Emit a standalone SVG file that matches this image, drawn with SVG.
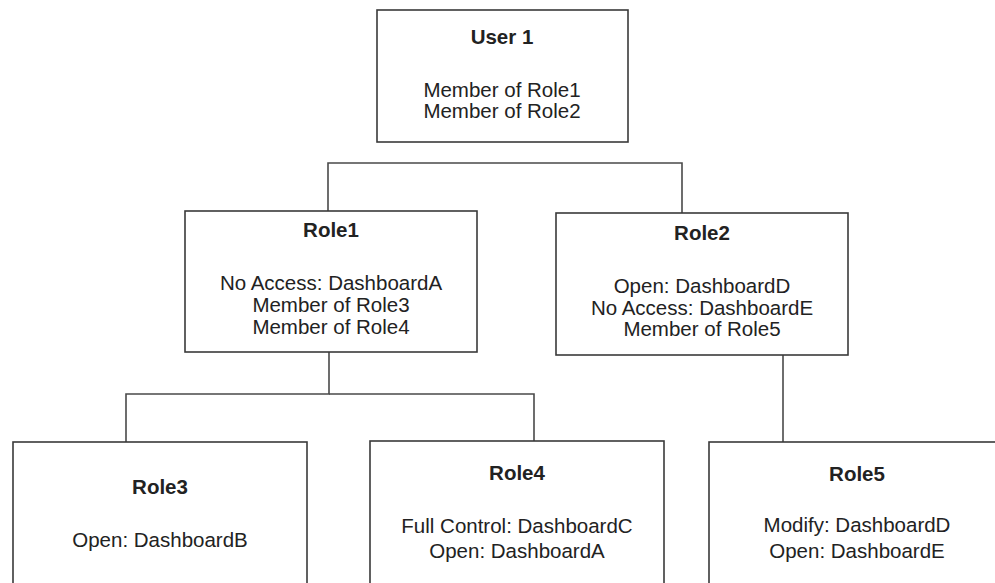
<svg xmlns="http://www.w3.org/2000/svg" width="995" height="583" viewBox="0 0 995 583">
<style>
.box{fill:#ffffff;stroke:#3a3a3a;stroke-width:1.6}
.t{font-family:"Liberation Sans",Arial,sans-serif;font-size:20.5px;fill:#222222;text-anchor:middle}
.b{font-weight:bold}
.c{fill:none;stroke:#4a4a4a;stroke-width:1.6}
</style>
<rect width="995" height="583" fill="#ffffff"/>
<g id="connectors">
<path class="c" d="M328 211 V163 H682 V213"/>
<path class="c" d="M329 352 V394 H126 V442"/>
<path class="c" d="M329 394 H534 V441"/>
<path class="c" d="M783 355 V442"/>
</g>
<g id="user1">
<rect class="box" x="377" y="10" width="251" height="132"/>
<text class="t b" x="502" y="44">User 1</text>
<text class="t" x="502" y="97">Member of Role1</text>
<text class="t" x="502" y="118">Member of Role2</text>
</g>
<g id="role1">
<rect class="box" x="185" y="211" width="292" height="141"/>
<text class="t b" x="331" y="237">Role1</text>
<text class="t" x="331" y="290">No Access: DashboardA</text>
<text class="t" x="331" y="312">Member of Role3</text>
<text class="t" x="331" y="334">Member of Role4</text>
</g>
<g id="role2">
<rect class="box" x="556" y="213" width="292" height="142"/>
<text class="t b" x="702" y="240">Role2</text>
<text class="t" x="702" y="293">Open: DashboardD</text>
<text class="t" x="702" y="315">No Access: DashboardE</text>
<text class="t" x="702" y="336">Member of Role5</text>
</g>
<g id="role3">
<rect class="box" x="13" y="442" width="294" height="160"/>
<text class="t b" x="160" y="494">Role3</text>
<text class="t" x="160" y="547">Open: DashboardB</text>
</g>
<g id="role4">
<rect class="box" x="370" y="441" width="294" height="160"/>
<text class="t b" x="517" y="480">Role4</text>
<text class="t" x="517" y="533">Full Control: DashboardC</text>
<text class="t" x="517" y="558">Open: DashboardA</text>
</g>
<g id="role5">
<rect class="box" x="709" y="442" width="296" height="160"/>
<text class="t b" x="857" y="481">Role5</text>
<text class="t" x="857" y="532">Modify: DashboardD</text>
<text class="t" x="857" y="558">Open: DashboardE</text>
</g>
</svg>
